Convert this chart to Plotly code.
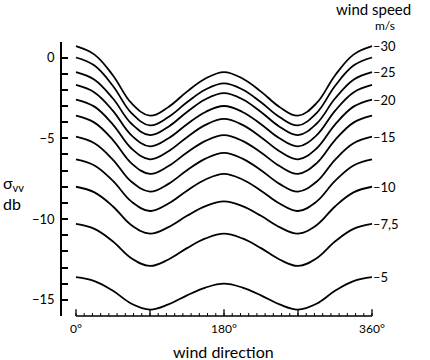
import plotly.graph_objects as go

# wind direction (degrees) at which values were read
angles = [0, 22.5, 45, 67.5, 90, 112.5, 135, 157.5, 180,
          202.5, 225, 247.5, 270, 292.5, 315, 337.5, 360]

# sigma_vv (dB) per wind speed (m/s)
s30   = [0.7, 0.18, -1.11, -2.83, -3.6, -3.06, -2.11, -1.3, -0.9, -1.3, -2.11, -3.06, -3.6, -2.83, -1.11, 0.18, 0.7]
s27_5 = [0.0, -0.5, -1.76, -3.44, -4.2, -3.68, -2.77, -1.98, -1.6, -1.98, -2.77, -3.68, -4.2, -3.44, -1.76, -0.5, 0.0]
s25   = [-0.9, -1.37, -2.54, -4.1, -4.8, -4.28, -3.37, -2.58, -2.2, -2.58, -3.37, -4.28, -4.8, -4.1, -2.54, -1.37, -0.9]
s22_5 = [-1.7, -2.16, -3.3, -4.82, -5.5, -5.0, -4.13, -3.37, -3.0, -3.37, -4.13, -5.0, -5.5, -4.82, -3.3, -2.16, -1.7]
s20   = [-2.6, -3.04, -4.15, -5.63, -6.3, -5.8, -4.93, -4.17, -3.8, -4.17, -4.93, -5.8, -6.3, -5.63, -4.15, -3.04, -2.6]
s17_5 = [-3.6, -4.03, -5.11, -6.55, -7.2, -6.72, -5.88, -5.16, -4.8, -5.16, -5.88, -6.72, -7.2, -6.55, -5.11, -4.03, -3.6]
s15   = [-4.9, -5.31, -6.33, -7.69, -8.3, -7.82, -6.98, -6.26, -5.9, -6.26, -6.98, -7.82, -8.3, -7.69, -6.33, -5.31, -4.9]
s12_5 = [-6.3, -6.68, -7.64, -8.92, -9.5, -9.04, -8.24, -7.55, -7.2, -7.55, -8.24, -9.04, -9.5, -8.92, -7.64, -6.68, -6.3]
s10   = [-8.0, -8.35, -9.22, -10.38, -10.9, -10.5, -9.8, -9.2, -8.9, -9.2, -9.8, -10.5, -10.9, -10.38, -9.22, -8.35, -8.0]
s7_5  = [-10.3, -10.61, -11.39, -12.43, -12.9, -12.5, -11.8, -11.2, -10.9, -11.2, -11.8, -12.5, -12.9, -12.43, -11.39, -10.61, -10.3]
s5    = [-13.6, -13.84, -14.44, -15.24, -15.6, -15.28, -14.72, -14.24, -14.0, -14.24, -14.72, -15.28, -15.6, -15.24, -14.44, -13.84, -13.6]

series = [s30, s27_5, s25, s22_5, s20, s17_5, s15, s12_5, s10, s7_5, s5]
speed_labels = ["30", "", "25", "", "20", "", "15", "", "10", "7,5", "5"]

y_tickvals = [0, -5, -10, -15]
y_ticktext = ["0", "\u22125", "\u221210", "\u221215"]
x_tickvals = [0, 180, 360]
x_ticktext = ["0\u00b0", "180\u00b0", "360\u00b0"]
x_minor = list(range(0, 361, 10))
x_major = [0, 90, 180, 270, 360]

FONT = "Lato"
W = "normal"

fig = go.Figure()
for s in series:
    fig.add_trace(go.Scatter(x=angles, y=s, mode="lines",
                             line=dict(color="black", width=1.8, shape="spline", smoothing=1.1),
                             hoverinfo="skip", showlegend=False))

for s, lab in zip(series, speed_labels):
    if lab:
        fig.add_annotation(x=360, y=s[-1], text="\u2013" + lab, showarrow=False,
                           xanchor="left", xshift=-1,
                           font=dict(size=13, color="black", family=FONT, weight=W))

# x axis line with minor and taller ticks
fig.add_shape(type="line", xref="x", yref="paper", x0=0, x1=360, y0=0, y1=0,
              line=dict(color="black", width=1.5))
for v in x_minor:
    fig.add_shape(type="line", xref="x", yref="paper", x0=v, x1=v, y0=0, y1=0.011,
                  line=dict(color="black", width=1))
for v in x_major:
    fig.add_shape(type="line", xref="x", yref="paper", x0=v, x1=v, y0=0, y1=0.025,
                  line=dict(color="black", width=1.3))

fig.add_annotation(xref="paper", yref="paper", x=0.52, y=-0.131, yanchor="middle",
                   text="wind direction", showarrow=False,
                   font=dict(size=16, color="black", family=FONT, weight=W))
fig.add_annotation(xref="paper", yref="paper", x=-0.195, y=0.45, xanchor="left", yanchor="middle",
                   text="\u03c3<sub>vv</sub><br>db", showarrow=False, align="left",
                   font=dict(size=16, color="black", family=FONT, weight=W))
fig.add_annotation(xref="paper", yref="paper", x=1.003, y=1.122, xanchor="center", yanchor="middle",
                   text="wind speed", showarrow=False,
                   font=dict(size=15, color="black", family=FONT, weight=W))
fig.add_annotation(xref="paper", yref="paper", x=1.04, y=1.06, xanchor="center", yanchor="middle",
                   text="m/s", showarrow=False,
                   font=dict(size=12, color="black", family=FONT, weight=W))

fig.update_layout(
    width=430, height=360,
    margin=dict(l=62, r=57, t=42, b=44),
    paper_bgcolor="white", plot_bgcolor="white",
    font=dict(family=FONT, size=12, color="black"),
    xaxis=dict(range=[-17.0, 361.2], showgrid=False, zeroline=False, showline=False,
               tickvals=x_tickvals, ticktext=x_ticktext, ticks="", ticklabelstandoff=4,
               tickfont=dict(size=12, family=FONT, weight=W)),
    yaxis=dict(range=[-16.0, 0.96], showgrid=False, zeroline=False, showline=True,
               linecolor="black", linewidth=1.5,
               tickvals=y_tickvals, ticktext=y_ticktext, ticks="inside", ticklen=6,
               tickwidth=1.5, tickcolor="black", ticklabelstandoff=3,
               tickfont=dict(size=13, family=FONT, weight=W),
               minor=dict(dtick=1, tick0=0, ticks="inside", ticklen=6, tickwidth=1.5, tickcolor="black")),
)

fig.write_html("out.html")
